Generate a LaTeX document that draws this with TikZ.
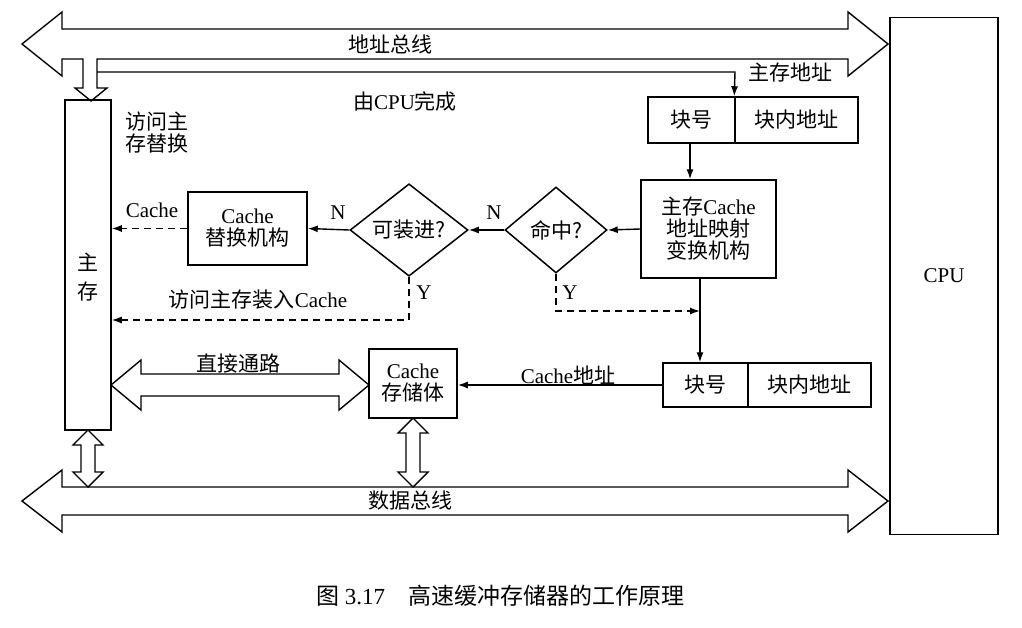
\documentclass[tikz,border=0pt]{standalone}
\usepackage{fontspec}
\setmainfont{Liberation Serif}
\newfontfamily\cjk{Noto Sans CJK SC}
\newcommand{\zh}[1]{{\cjk #1}}
\usetikzlibrary{shapes.geometric,arrows.meta}
\tikzset{
  box/.style={draw,line width=1.5pt,inner sep=0pt,align=center},
  dia/.style={draw,diamond,line width=1.5pt,inner sep=0pt},
  bus/.style={draw,line width=1.4pt,fill=white,line join=miter},
  link/.style={line width=1.4pt,-{Latex[length=10pt,width=7pt]}},
  dlink/.style={link,dash pattern=on 7pt off 5pt},
  lbl/.style={inner sep=1pt},
}
\begin{document}
\begin{tikzpicture}[x=1pt,y=-1pt,font=\fontsize{21}{24}\selectfont]
\useasboundingbox (0,0) rectangle (1022,627);
%% buses
\draw [bus] (22,44) -- (62,12) -- (62,29) -- (848,29) -- (848,12) -- (888,44) -- (848,76)
  -- (848,59) -- (97,59) -- (97,88) -- (107,88) -- (91,101) -- (75,88) -- (83,88)
  -- (83,59) -- (62,59) -- (62,76) -- cycle;
\draw [bus] (22,501) -- (62,470) -- (62,487) -- (848,487) -- (848,470) -- (888,501) -- (848,532)
  -- (848,515) -- (62,515) -- (62,532) -- cycle;
\node (abus) [lbl] at (390,44) {\zh{地址总线}};
\node (dbus) [lbl] at (410,501) {\zh{数据总线}};
%% boxes
\node (mem) [box,minimum width=46pt,minimum height=330pt] at (88,265) {};
\node [lbl] at (88,262) {\zh{主}};
\node [lbl] at (88,292) {\zh{存}};
\node (cpu) [box,minimum width=108pt,minimum height=517pt] at (944,276) {CPU};
\node (tno) [box,minimum width=87pt,minimum height=46pt] at (691.5,120) {\zh{块号}};
\node (toff) [box,minimum width=123pt,minimum height=46pt] at (796.5,120) {\zh{块内地址}};
\node (map) [box,minimum width=135pt,minimum height=98pt] at (708.5,229)
  {\zh{主存}Cache\\[-2pt]\zh{地址映射}\\[-2pt]\zh{变换机构}};
\node (hit) [dia,minimum width=102pt,minimum height=86pt] at (556,230) {\zh{命中?}};
\node (fit) [dia,minimum width=118pt,minimum height=86pt] at (409,230) {\zh{可装进?}};
\node (repl) [box,minimum width=119pt,minimum height=73pt] at (247.5,228.5)
  {Cache\\[-2pt]\zh{替换机构}};
\node (bno) [box,minimum width=85pt,minimum height=44pt] at (705.5,385) {\zh{块号}};
\node (boff) [box,minimum width=123pt,minimum height=44pt] at (809.5,385) {\zh{块内地址}};
\node (store) [box,minimum width=88pt,minimum height=69pt] at (413,383.5)
  {Cache\\[-2pt]\zh{存储体}};
%% address path
\coordinate (tap) at (97,72);
\draw [link] (tap) -- (735,72) -- (toff.north west);
\node [lbl] at (790,73) {\zh{主存地址}};
\node [lbl] at (405,101) {\zh{由}CPU\zh{完成}};
\node [lbl,align=left] at (157,133) {\zh{访问主}\\[-2pt]\zh{存替换}};
\draw [link] (tno.south -| 690,0) -- (map.north -| 690,0);
\draw [link] (map.west) -- (hit.east);
\draw [link] (hit.west) -- (fit.east);
\draw [link] (fit.west) -- (repl.east);
\draw [dlink] (repl.west) -- (mem.east |- repl.west);
\node [lbl] at (494,213) {N};
\node [lbl] at (338,213) {N};
\node [lbl] at (152,210) {Cache};
%% Y branches
\draw [dlink] (fit.south) -- (409,320) -- (mem.east |- 0,320);
\node [lbl] at (424,293) {Y};
\node [lbl] at (258,300) {\zh{访问主存装入}Cache};
\coordinate (mid) at (700,311);
\draw [dlink] (hit.south) -- (556,311) -- (mid);
\node [lbl] at (570,293) {Y};
\draw [link] (map.south -| mid) -- (bno.north -| mid);
\draw [link] (bno.west) -- (store.east |- bno.west);
\node [lbl] at (568,375) {Cache\zh{地址}};
%% data paths
\draw [bus] (111,385) -- (141,360) -- (141,374) -- (339,374) -- (339,360) -- (369,385)
  -- (339,410) -- (339,396) -- (141,396) -- (141,410) -- cycle;
\node [lbl] at (238,364) {\zh{直接通路}};
\foreach \cx/\top in {88/430,413/418}{
  \draw [bus] (\cx,\top) -- (\cx+15,\top+15) -- (\cx+7,\top+15) -- (\cx+7,472) -- (\cx+15,472)
    -- (\cx,487) -- (\cx-15,472) -- (\cx-7,472) -- (\cx-7,\top+15) -- (\cx-15,\top+15) -- cycle;
}
%% caption
\node (cap) [lbl,font=\fontsize{23}{26}\selectfont] at (500,596) {\zh{图} 3.17\quad \zh{高速缓冲存储器的工作原理}};
\end{tikzpicture}
\end{document}
